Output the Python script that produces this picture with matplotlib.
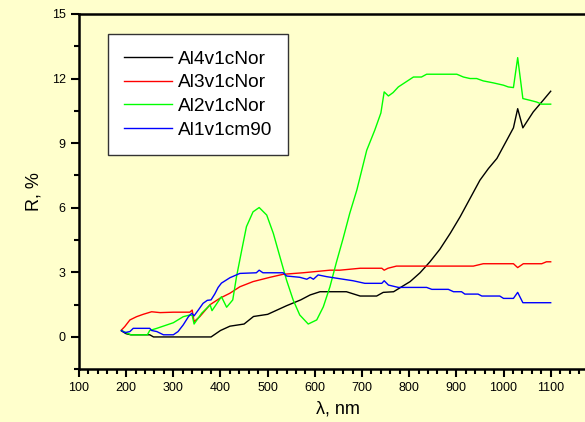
import matplotlib
matplotlib.use('Agg')
import matplotlib.pyplot as plt
from matplotlib.ticker import MultipleLocator

plt.rcParams['font.family'] = ['Liberation Sans', 'DejaVu Sans']

# Al4v1cNor (black)
x_al4 = [190, 200, 210, 250, 258, 380, 390, 400, 420, 450, 470, 500, 540, 570, 590, 611, 667,
         696, 731, 745, 767, 784, 802, 823, 844, 865, 887, 908, 929, 950, 968, 986, 1007, 1021,
         1030, 1041, 1063, 1084, 1100]
r_al4 = [0.28, 0.15, 0.1, 0.1, 0.0, 0.0, 0.15, 0.3, 0.5, 0.6, 0.95, 1.05, 1.45, 1.72, 1.95, 2.1, 2.1,
         1.9, 1.9, 2.07, 2.1, 2.33, 2.57, 2.98, 3.49, 4.07, 4.81, 5.58, 6.43, 7.28, 7.82, 8.29, 9.14, 9.71,
         10.6, 9.71, 10.45, 10.99, 11.41]

# Al3v1cNor (red)
x_al3 = [190, 197, 208, 222, 236, 254, 272, 300, 335, 340, 344, 356, 378, 399, 420, 441, 469, 505,
         533, 575, 632, 653, 696, 742, 747, 755, 773, 936, 957, 1021, 1030, 1042, 1081, 1091, 1100]
r_al3 = [0.32, 0.48, 0.79, 0.94, 1.05, 1.17, 1.13, 1.15, 1.15, 1.25, 0.71, 0.94, 1.5, 1.8, 2.03, 2.33,
         2.57, 2.77, 2.91, 2.98, 3.1, 3.1, 3.19, 3.19, 3.1, 3.19, 3.29, 3.29, 3.4, 3.4, 3.22, 3.4, 3.4,
         3.49, 3.49]

# Al2v1cNor (green)
x_al2 = [190, 200, 210, 245, 250, 265, 300, 321, 335, 340, 344, 360, 378, 382, 402, 413, 426, 434,
         445, 455, 469, 482, 498, 512, 526, 540, 554, 568, 586, 604, 618, 632, 646, 660, 674, 689,
         710, 727, 740, 747, 756, 766, 777, 809, 826, 837, 901, 915, 929, 943, 957, 978, 1000, 1010,
         1021, 1030, 1041, 1056, 1070, 1081, 1100]
r_al2 = [0.3, 0.2, 0.1, 0.1, 0.3, 0.4, 0.66, 0.94, 1.02, 1.0, 0.6, 1.1, 1.49, 1.22, 1.87, 1.38, 1.72,
         2.8, 4.03, 5.12, 5.81, 6.01, 5.66, 4.81, 3.72, 2.64, 1.72, 1.02, 0.6, 0.79, 1.4, 2.33, 3.49,
         4.58, 5.74, 6.82, 8.67, 9.6, 10.4, 11.38, 11.19, 11.35, 11.61, 12.07, 12.07, 12.2, 12.2, 12.07,
         12.0, 12.0, 11.89, 11.8, 11.69, 11.61, 11.58, 12.97, 11.07, 10.99, 10.91, 10.81, 10.81]

# Al1v1cm90 (blue)
x_al1 = [190, 197, 208, 215, 250, 254, 265, 279, 300, 310, 321, 332, 339, 344, 353, 363, 372, 380,
         388, 395, 402, 420, 441, 476, 482, 490, 533, 540, 568, 583, 590, 597, 607, 625, 660, 681, 706,
         742, 747, 756, 777, 837, 848, 883, 894, 911, 918, 946, 954, 992, 1000, 1021, 1030, 1041, 1100]
r_al1 = [0.3, 0.2, 0.25, 0.4, 0.4, 0.3, 0.25, 0.1, 0.1, 0.25, 0.56, 0.94, 1.1, 0.98, 1.25, 1.56, 1.7,
         1.72, 2.0, 2.3, 2.5, 2.75, 2.95, 2.98, 3.1, 2.98, 2.98, 2.83, 2.77, 2.68, 2.77, 2.68, 2.88, 2.8,
         2.68, 2.61, 2.49, 2.49, 2.61, 2.41, 2.3, 2.3, 2.21, 2.21, 2.1, 2.1, 1.99, 1.99, 1.9, 1.9, 1.79,
         1.79, 2.07, 1.59, 1.59]

bg = '#FFFFCC'
fig = plt.figure(figsize=(5.85, 4.22), dpi=100, facecolor=bg)
ax = fig.add_axes([0.135, 0.125, 0.887, 0.842], facecolor=bg)

ax.plot(x_al4, r_al4, color='black', lw=1, label='Al4v1cNor')
ax.plot(x_al3, r_al3, color='#FF0000', lw=1, label='Al3v1cNor')
ax.plot(x_al2, r_al2, color='#00FF00', lw=1, label='Al2v1cNor')
ax.plot(x_al1, r_al1, color='#0000FF', lw=1, label='Al1v1cm90')

ax.set_xlim(100, 1200)
ax.set_ylim(-1.5, 15)
ax.set_xticks(range(100, 1101, 100))
ax.xaxis.set_minor_locator(MultipleLocator(20))
ax.set_yticks(range(0, 16, 3))
ax.yaxis.set_minor_locator(MultipleLocator(1.5))
ax.tick_params(which='major', length=6, width=1.5, labelsize=9, direction='out')
ax.tick_params(which='minor', length=3.5, width=1.5, direction='out')
for s in ax.spines.values():
    s.set_linewidth(1.8)

ax.set_xlabel('λ, nm', fontsize=13)
ax.set_ylabel('R, %', fontsize=13, labelpad=7)

leg = ax.legend(loc='upper left', bbox_to_anchor=(0.0553, 0.9437), borderaxespad=0,
                fontsize=13.8, frameon=True, fancybox=False, handlelength=2.5,
                handletextpad=0.3, labelspacing=0.33, borderpad=0.85)
leg.get_frame().set_edgecolor('#333333')
leg.get_frame().set_linewidth(1)
leg.get_frame().set_facecolor('white')
leg.get_frame().set_alpha(1)

fig.savefig('out.png', dpi=100, facecolor=bg)
